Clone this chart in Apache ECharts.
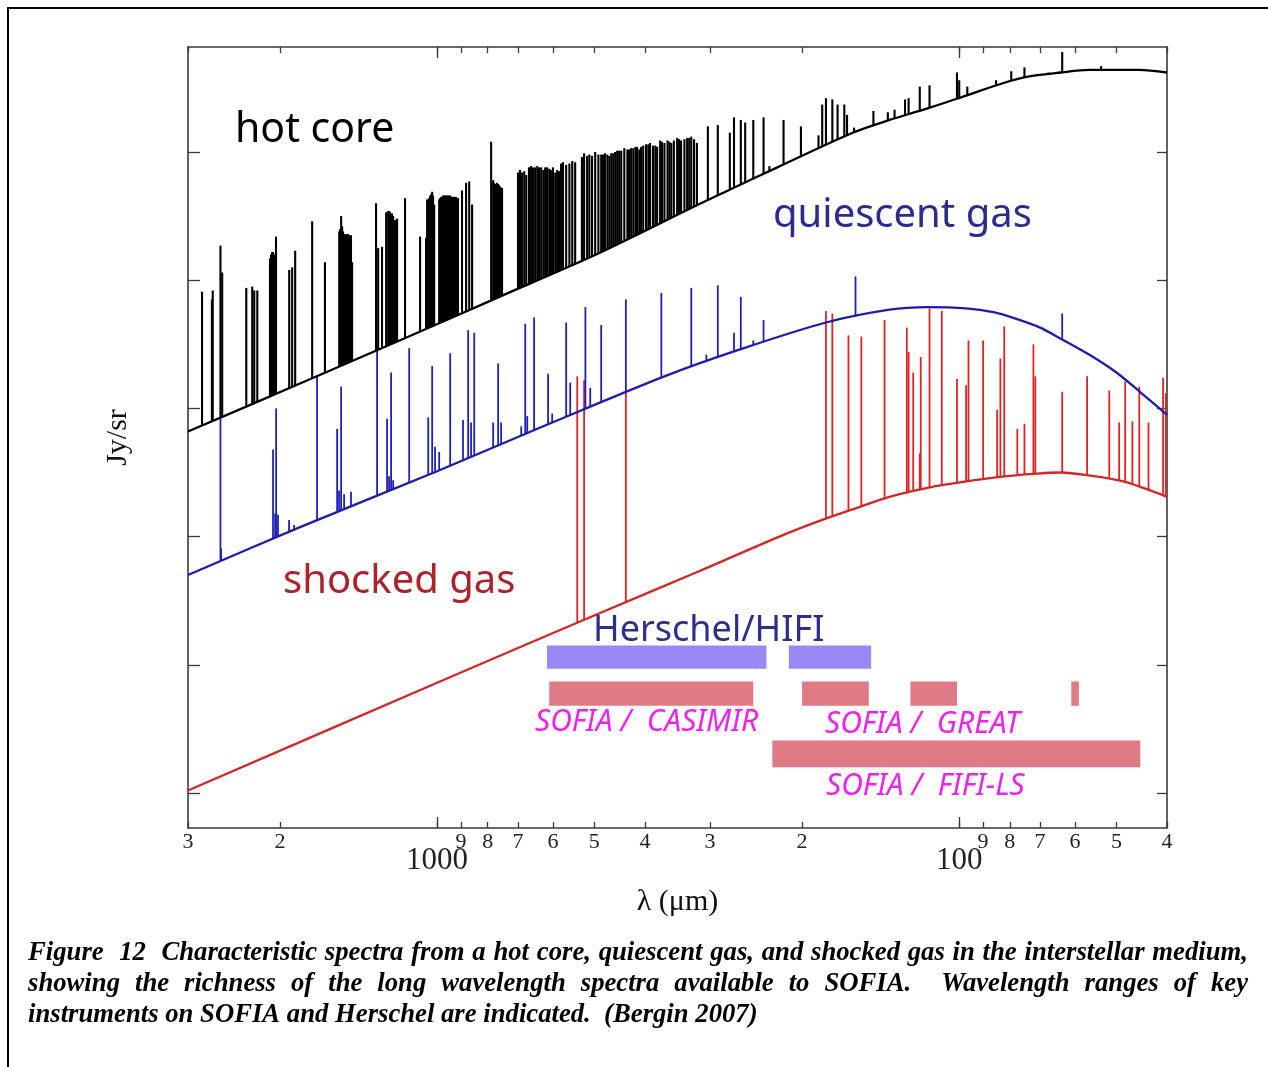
<!DOCTYPE html>
<html>
<head>
<meta charset="utf-8">
<title>Characteristic spectra</title>
<script src="https://cdn.jsdelivr.net/npm/echarts@6/dist/echarts.min.js"></script>
<style>
  html, body { margin: 0; padding: 0; background: #fff; }
  #chart { width: 1268px; height: 1067px; }
</style>
</head>
<body>
<div id="chart"></div>
<script>
// wavelength in um, level on the (unlabelled) Jy/sr axis
const hotCoreContinuum = [[3000,3.82],[1840,4.19],[1180,4.53],[760,4.87],[490,5.21],[316,5.59],[264,5.74],
  [223,5.88],[160,6.15],[136,6.25],[115,6.34],[97,6.44],[82,6.54],[73.4,6.59],[64,6.62],[56.4,6.64],
  [50,6.64],[45.2,6.64],[40,6.62]];
const quiescentContinuum = [[3000,2.70],[1840,3.07],[1000,3.51],[610,3.88],[367,4.25],[263,4.46],[180,4.67],
  [136,4.77],[115,4.79],[97,4.78],[86,4.75],[78,4.70],[70,4.63],[64.3,4.55],[56.4,4.42],[50,4.28],[44.8,4.12],[40,3.95]];
const shockedContinuum = [[3000,1.02],[1000,1.86],[490,2.40],[315,2.73],[221,3.00],[183,3.13],[155.5,3.23],
  [136,3.31],[115,3.38],[97,3.43],[82,3.47],[72,3.49],[64,3.50],[57,3.48],[48.5,3.43],[40,3.31]];

// emission lines: [wavelength, peak level]
const hotCoreLines = [[2820,4.91],[2700,4.85],[2690,4.92],[2600,5.27],[2580,5.06],
  [2320,4.94],[2260,4.95],[2240,4.92],[2210,4.92],
  [2090,5.17],[2080,5.20],[2070,5.22],[2062,5.22],[2050,5.18],[2043,5.20],[2035,5.34],
  [1920,5.08],[1895,5.10],[1870,5.23],[1735,5.46],[1640,5.14],
  [1540,5.38],[1534,5.40],[1527,5.50],[1520,5.42],[1514,5.38],[1507,5.36],[1500,5.34],[1494,5.36],[1487,5.35],
  [1481,5.36],[1474,5.34],[1468,5.35],[1462,5.35],[1455,5.14],
  [1309,5.60],[1297,5.25],[1275,5.26],[1252,5.53],[1241,5.54],[1236,5.54],[1230,5.53],[1220,5.52],[1214,5.50],
  [1209,5.43],[1204,5.47],[1198,5.45],[1193,5.48],
  [1152,5.64],[1078,5.34],[1050,5.33],[1045,5.63],[1040,5.62],[1036,5.64],[1031,5.66],[1027,5.67],[1022,5.69],
  [1018,5.66],[1013,5.59],
  [991,5.63],[987,5.64],[982,5.65],[978,5.65],[974,5.66],[970,5.66],[965,5.66],[961,5.66],[957,5.66],[953,5.66],
  [948,5.66],[944,5.66],[940,5.65],[936,5.65],[932,5.65],[928,5.65],[924,5.64],[920,5.65],[916,5.63],[912,5.64],
  [896,5.70],[880,5.76],[868,5.77],[857,5.59],
  [788,6.08],[781,5.78],[778,5.76],[774,5.74],[771,5.75],[768,5.76],[764,5.75],[761,5.74],[757,5.73],[754,5.72],[751,5.72],
  [700,5.84],[694,5.86],[688,5.84],[681,5.85],[675,5.82],[667,5.88],[661,5.89],[655,5.88],[649,5.88],[643,5.89],
  [638,5.88],[632,5.88],[626,5.86],[621,5.88],[616,5.88],[610,5.87],[605,5.86],[600,5.88],[594,5.84],[589,5.86],[584,5.85],
  [579,5.91],[574,5.92],[566,5.90],[558,5.91],[551,5.93],[544,5.92],
  [528,5.96],[523,5.99],[516,5.97],[511,5.98],[505,5.97],[498,6.00],[491,5.98],
  [485,5.98],[481,5.98],[477,5.99],[472,5.98],[468,5.97],[464,5.99],[460,5.99],[456,6.00],[452,6.01],[448,6.01],
  [444,6.01],[438,6.03],[432,6.02],[429,6.02],[425,6.03],[421,6.03],[417,6.04],[414,6.04],[410,6.02],[407,6.04],
  [403,6.05],[398,6.06],[394,6.06],[391,6.07],[386,6.05],[382,6.05],[379,6.04],[374,6.09],[371,6.08],[367,6.07],
  [362,6.09],[359,6.08],[356,6.07],[352,6.09],[347,6.11],[344,6.10],[341,6.09],[336,6.10],[332,6.11],[329,6.11],
  [326,6.12],[322,6.10],[318,6.07],
  [303,6.20],[290,6.21],[275,6.15],[270,6.27],[262,6.25],[257,6.23],[248,6.25],[237,6.27],[231,5.89],[217,6.25],
  [201,6.20],[186,6.13],[183,6.37],[180,6.42],[175,6.41],[171,6.37],[166,6.37],[164,6.29],[159,6.19],[146,6.32],
  [137,6.31],[133,6.33],[127,6.41],[125,6.42],[119,6.51],[114,6.52],[101,6.62],[100,6.56],[96.5,6.51],[85,6.56],
  [79.5,6.63],[75,6.66],[67.5,6.62],[63.5,6.78],[53.5,6.67]];
const quiescentLines = [[2600,3.93],[2593,2.91],[2062,3.68],[2043,3.18],[2034,4.00],[2017,3.17],[1921,3.13],[1879,3.09],
  [1698,4.26],[1554,3.84],[1541,3.36],[1527,4.17],[1507,3.33],[1462,3.35],[1303,4.46],[1247,3.92],[1236,3.47],
  [1225,4.28],[1214,3.44],[1131,4.47],[1040,3.93],[1022,4.33],[1009,3.70],[991,3.66],[944,4.43],[892,3.91],
  [872,4.61],[861,3.89],[849,4.59],[781,3.89],[764,4.35],[754,3.89],[690,3.86],[678,4.66],[672,3.94],[652,4.71],
  [613,4.27],[602,3.96],[566,4.67],[556,4.20],[520,4.79],[509,4.16],[485,4.65],[435,4.85],[372,4.90],[326,4.94],
  [305,4.42],[290,4.96],[270,4.59],[262,4.87],[248,4.53],[237,4.69],[158,5.03],[63.5,4.74]];
const shockedLines = [[539,4.25],[523,4.22],[435,4.12],[180,4.76],[175,4.74],[163,4.57],[154,4.56],[139,4.69],
  [126,4.63],[125,4.44],[122.5,4.28],[119,3.65],[118.5,4.40],[114,4.78],[108,4.76],[101,4.23],[97,4.18],[96,4.53],
  [90,4.53],[84.6,3.99],[83.4,4.39],[82,4.64],[77.4,3.84],[75,3.88],[72.1,4.50],[71.5,4.25],[63.5,4.13],
  [56.9,4.25],[51.6,4.14],[49.4,3.89],[48.1,4.21],[46.6,3.90],[45.2,4.17],[43.4,3.89],[40.7,4.24],[40.2,4.12]];

// instrument coverage: [long wavelength, short wavelength, low level, high level]
const hifiBands = [[616,234,1.97,2.15],[212,147.5,1.97,2.15]];
const casimirBands = [[610,248,1.68,1.87]];
const greatBands = [[200,149,1.68,1.87],[124,101,1.68,1.87],[61,59,1.68,1.87]];
const fifiBands = [[228,45,1.20,1.41]];

const xTicks = [3000,2000,1000,900,800,700,600,500,400,300,200,100,90,80,70,60,50,40];
const xMinorLabels = [3000,2000,900,800,700,600,500,400,300,200,90,80,70,60,50,40];
const xMajorLabels = [1000,100];
const yTicks = [1,2,3,4,5,6];

const captionLines = [
  'Figure  12  Characteristic spectra from a hot core, quiescent gas, and shocked gas in the interstellar medium,',
  'showing the richness of the long wavelength spectra available to SOFIA.  Wavelength ranges of key',
  'instruments on SOFIA and Herschel are indicated.  (Bergin 2007)'
];

const lg = Math.log10;
const X_MIN = lg(40), X_MAX = lg(3000);
const SERIF = '"Liberation Serif", "Times New Roman", serif';
const SANS = '"Comic Sans MS", "Noto Sans", sans-serif';

function toLog(arr) { return arr.map(p => [lg(p[0]), p[1]]); }

function levelAt(cont, x) {
  for (let i = 0; i < cont.length - 1; i++) {
    const a = cont[i], b = cont[i + 1];
    if (x <= a[0] && x >= b[0]) {
      const t = (x - a[0]) / (b[0] - a[0]);
      return a[1] + t * (b[1] - a[1]);
    }
  }
  return cont[cont.length - 1][1];
}

function continuumSeries(cont, color) {
  return {
    type: 'line', data: toLog(cont), smooth: 0.3, symbol: 'none',
    lineStyle: { color: color, width: 2.3 }, z: 4, silent: true
  };
}

function lineSeries(lines, cont, color, width) {
  const c = toLog(cont);
  return {
    type: 'custom', data: toLog(lines), z: 3, silent: true,
    encode: { x: 0, y: 1 },
    renderItem: function (params, api) {
      const x = api.value(0);
      const p0 = api.coord([x, levelAt(c, x)]);
      const p1 = api.coord([x, api.value(1)]);
      return {
        type: 'line',
        shape: { x1: p0[0], y1: p0[1], x2: p1[0], y2: p1[1] },
        style: { stroke: color, lineWidth: width }
      };
    }
  };
}

function bandSeries(bands, color) {
  return {
    type: 'custom', silent: true, z: 2,
    data: bands.map(b => [lg(b[0]), lg(b[1]), b[2], b[3]]),
    encode: { x: [0, 1], y: [2, 3] },
    renderItem: function (params, api) {
      const a = api.coord([api.value(0), api.value(3)]);
      const b = api.coord([api.value(1), api.value(2)]);
      return {
        type: 'rect',
        shape: { x: Math.min(a[0], b[0]), y: a[1], width: Math.abs(b[0] - a[0]), height: b[1] - a[1] },
        style: { fill: color }
      };
    }
  };
}

function firstDigit(v) {
  return String(Math.round(Math.pow(10, v)))[0];
}

// caption, justified like the original
const ctx = document.createElement('canvas').getContext('2d');
ctx.font = 'italic bold 100px ' + SERIF;
const capSize = 100 * 729 / ctx.measureText(captionLines[2]).width;
const capFont = 'italic bold ' + capSize.toFixed(1) + 'px ' + SERIF;
ctx.font = capFont;
const CAP_LEFT = 28, CAP_RIGHT = 1248;
const captionTexts = [];
captionLines.forEach(function (line, i) {
  const words = line.split(' ');
  const widths = words.map(w => ctx.measureText(w).width);
  const used = widths.reduce((s, w) => s + w, 0);
  const justify = i < captionLines.length - 1;
  const gap = justify ? (CAP_RIGHT - CAP_LEFT - used) / (words.length - 1) : ctx.measureText(' ').width;
  let x = CAP_LEFT;
  words.forEach(function (w, j) {
    if (w) {
      captionTexts.push({
        type: 'text', z: 10,
        style: { text: w, x: x, y: 953 + i * 31, font: capFont, fill: '#000', textVerticalAlign: 'middle' }
      });
    }
    x += widths[j] + gap;
  });
});

function label(text, x, y, color, size, style) {
  return {
    type: 'text', z: 10,
    style: {
      text: text, x: x, y: y, fill: color, textVerticalAlign: 'middle',
      font: (style || 'normal') + ' ' + size + 'px ' + SANS
    }
  };
}

const logTicks = xTicks.map(lg);
const baseX = { type: 'value', min: X_MIN, max: X_MAX, inverse: true, splitLine: { show: false } };
const frameLine = { show: true, lineStyle: { color: '#3a3a3a', width: 1.6 } };
const tickStyle = { color: '#3a3a3a', width: 1.3 };

const option = {
  animation: false,
  backgroundColor: '#fff',
  grid: { left: 188, right: 101, top: 47, bottom: 239, containLabel: false, outerBoundsMode: 'none' },
  xAxis: [
    Object.assign({}, baseX, {
      position: 'bottom',
      axisLine: frameLine,
      axisTick: { show: true, inside: true, length: 6, customValues: logTicks, lineStyle: tickStyle },
      axisLabel: {
        show: true, customValues: xMinorLabels.map(lg), formatter: firstDigit, margin: 3,
        fontFamily: SERIF, fontSize: 22, color: '#222'
      },
      name: 'λ (μm)', nameLocation: 'middle', nameGap: 59,
      nameTextStyle: { fontFamily: SERIF, fontSize: 30, color: '#111' }
    }),
    Object.assign({}, baseX, {
      position: 'bottom',
      axisLine: { show: false },
      axisTick: { show: true, inside: true, length: 11, customValues: xMajorLabels.map(lg), lineStyle: tickStyle },
      axisLabel: {
        show: true, customValues: xMajorLabels.map(lg), margin: 17,
        formatter: v => String(Math.round(Math.pow(10, v))),
        fontFamily: SERIF, fontSize: 31, color: '#222'
      }
    }),
    Object.assign({}, baseX, {
      position: 'top',
      axisLine: frameLine,
      axisTick: { show: true, inside: true, length: 6, customValues: logTicks, lineStyle: tickStyle },
      axisLabel: { show: false }
    }),
    Object.assign({}, baseX, {
      position: 'top',
      axisLine: { show: false },
      axisTick: { show: true, inside: true, length: 11, customValues: xMajorLabels.map(lg), lineStyle: tickStyle },
      axisLabel: { show: false }
    })
  ],
  yAxis: [
    {
      type: 'value', min: 0.727, max: 6.819, position: 'left', splitLine: { show: false },
      axisLine: frameLine,
      axisTick: { show: true, inside: true, length: 12, customValues: yTicks, lineStyle: tickStyle },
      axisLabel: { show: false },
      name: 'Jy/sr', nameLocation: 'middle', nameGap: 55, nameRotate: 90,
      nameTextStyle: { fontFamily: SERIF, fontSize: 30, color: '#111' }
    },
    {
      type: 'value', min: 0.727, max: 6.819, position: 'right', splitLine: { show: false },
      axisLine: frameLine,
      axisTick: { show: true, inside: true, length: 10, customValues: yTicks, lineStyle: tickStyle },
      axisLabel: { show: false }
    }
  ],
  series: [
    bandSeries(hifiBands, '#9b88f6'),
    bandSeries(casimirBands, '#e07a85'),
    bandSeries(greatBands, '#e07a85'),
    bandSeries(fifiBands, '#e07a85'),
    lineSeries(shockedLines, shockedContinuum, '#e02424', 1.8),
    lineSeries(quiescentLines, quiescentContinuum, '#2020b8', 1.8),
    lineSeries(hotCoreLines, hotCoreContinuum, '#000', 2.1),
    continuumSeries(shockedContinuum, '#d42626'),
    continuumSeries(quiescentContinuum, '#1c1cae'),
    continuumSeries(hotCoreContinuum, '#000')
  ],
  graphic: [
    { type: 'rect', z: 10, shape: { x: 8, y: 8, width: 1300, height: 1100 }, style: { fill: 'none', stroke: '#000', lineWidth: 2 } },
    label('hot core', 235, 130, '#000', 41),
    label('quiescent gas', 773, 216, '#2b2b90', 40),
    label('shocked gas', 283, 582, '#b0222a', 40),
    label('Herschel/HIFI', 593, 631, '#2e2e8c', 36),
    label('SOFIA /  CASIMIR', 535, 722, '#ee22ee', 30, 'italic'),
    label('SOFIA /  GREAT', 825, 724, '#ee22ee', 30, 'italic'),
    label('SOFIA /  FIFI-LS', 826, 786, '#ee22ee', 30, 'italic')
  ].concat(captionTexts)
};

const chart = echarts.init(document.getElementById('chart'), null, { renderer: 'canvas' });
chart.setOption(option);
</script>
</body>
</html>
